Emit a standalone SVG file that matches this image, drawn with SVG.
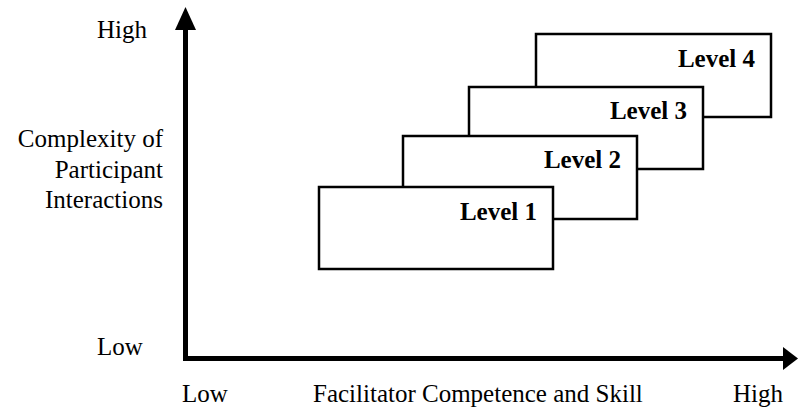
<svg xmlns="http://www.w3.org/2000/svg" width="798" height="412" viewBox="0 0 798 412">
<style>
.t{font-family:"Liberation Serif","Times New Roman",serif;font-size:25px;fill:#000}
.b{font-family:"Liberation Serif","Times New Roman",serif;font-size:25px;font-weight:bold;fill:#000;text-anchor:end}
.box{fill:#fff;stroke:#000;stroke-width:2.5}
.ax{stroke:#000;stroke-width:5;fill:none}
</style>
<rect width="798" height="412" fill="#fff"/>
<g id="axes">
<line class="ax" x1="185.5" y1="27" x2="185.5" y2="361"/>
<line class="ax" x1="183" y1="358.5" x2="785" y2="358.5"/>
<polygon points="185.5,7 175,30 196,30" fill="#000"/>
<polygon points="798,358.5 783,347 783,370" fill="#000"/>
</g>
<g id="level4"><rect class="box" x="536" y="34" width="235" height="83"/><text class="b" x="755" y="67">Level 4</text></g>
<g id="level3"><rect class="box" x="469" y="87" width="234" height="82"/><text class="b" x="687" y="119">Level 3</text></g>
<g id="level2"><rect class="box" x="403" y="136" width="234" height="83"/><text class="b" x="621" y="168">Level 2</text></g>
<g id="level1"><rect class="box" x="319" y="187" width="234" height="82"/><text class="b" x="537" y="220">Level 1</text></g>
<g id="labels">
<text class="t" x="97" y="38">High</text>
<text class="t" x="163" y="147" text-anchor="end">Complexity of</text>
<text class="t" x="163" y="178" text-anchor="end">Participant</text>
<text class="t" x="163" y="208" text-anchor="end">Interactions</text>
<text class="t" x="97" y="355">Low</text>
<text class="t" x="182" y="402">Low</text>
<text class="t" x="313" y="402">Facilitator Competence and Skill</text>
<text class="t" x="733" y="402">High</text>
</g>
</svg>
